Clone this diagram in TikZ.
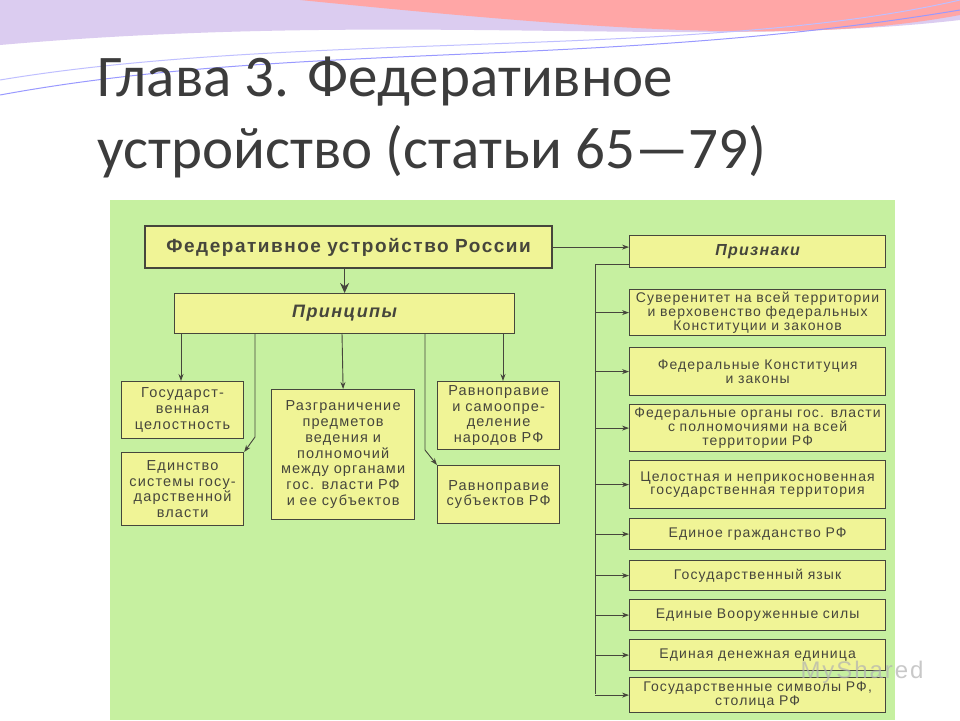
\documentclass[tikz,border=0pt]{standalone}
\usepackage{fontspec}
\setmainfont{Liberation Sans}[LetterSpace=8]
\newfontfamily\titlefont{Carlito}
\usetikzlibrary{arrows.meta}
\definecolor{panel}{RGB}{198,240,160}
\definecolor{boxfill}{RGB}{240,244,150}
\definecolor{ink}{RGB}{70,70,60}
\definecolor{titleink}{RGB}{60,60,60}
\tikzset{
 box/.style={draw=ink, fill=boxfill, line width=1.2pt, anchor=north west, align=center, inner sep=0pt, text=ink, font=\fontsize{14.5}{15.8}\selectfont},
 rbox/.style={box, font=\fontsize{14}{13.8}\selectfont},
 conn/.style={draw=ink, line width=0.9pt, -{Stealth[length=7pt,width=5pt]}},
 line/.style={draw=ink, line width=0.9pt}
}
\newcommand{\bx}[6][]{\node[box,#1, minimum width=#4pt-#2pt, minimum height=#5pt-#3pt, text width=#4pt-#2pt] (#6) at (#2,#3)}
\begin{document}
\begin{tikzpicture}[x=1pt,y=-1pt]
\useasboundingbox (0,0) rectangle (960,720);
\fill[white] (0,0) rectangle (960,720);
% decorative top wave
\fill[red!30!blue!20] (0,0) -- (960,0) -- (960,20) .. controls (700,50) and (400,10) .. (0,45) -- cycle;
\fill[red!35!white] (300,0) -- (960,0) -- (960,15) .. controls (800,45) and (600,30) .. (300,0);
\draw[blue!40, line width=1pt] (0,95) .. controls (300,40) and (600,70) .. (960,10);
\draw[blue!25, line width=1pt] (0,80) .. controls (300,30) and (700,60) .. (960,0);
% title
\node[anchor=west, font=\titlefont\fontsize{59}{62}\selectfont, text=titleink, inner sep=0] (t1) at (97,82) {Глава 3. Федеративное};
\node[anchor=west, font=\titlefont\fontsize{59}{62}\selectfont, text=titleink, inner sep=0] (t2) at (97,152) {устройство (статьи 65—79)};
% panel
\fill[panel] (110,200) rectangle (895,720);
% boxes
\bx[line width=2.2pt, font=\bfseries\fontsize{19}{21}\selectfont]{144}{225}{551}{267}{top} {Федеративное устройство России};
\bx[font=\bfseries\itshape\fontsize{18}{20}\selectfont]{174}{293}{514}{333}{prin} {Принципы};
\bx[font=\bfseries\itshape\fontsize{16}{18}\selectfont]{629}{235}{885}{267}{priz} {Признаки};
\bx{121}{381}{243}{438}{p1} {Государст-\\венная\\целостность};
\bx{121}{452}{243}{525}{p2} {Единство\\системы госу-\\дарственной\\власти};
\bx{271}{389}{414}{519}{p3} {Разграничение\\предметов\\ведения и\\полномочий\\между органами\\гос. власти РФ\\и ее субъектов};
\bx{437}{381}{559}{449}{p4} {Равноправие\\и самоопре-\\деление\\народов РФ};
\bx{437}{465}{559}{523}{p5} {Равноправие\\субъектов РФ};
\bx[rbox]{629}{289}{885}{335}{r1} {Суверенитет на всей территории\\и верховенство федеральных\\Конституции и законов};
\bx[rbox]{629}{347}{885}{395}{r2} {Федеральные Конституция\\и законы};
\bx[rbox]{629}{404}{885}{451}{r3} {Федеральные органы гос. власти\\с полномочиями на всей\\территории РФ};
\bx[rbox]{629}{460}{885}{508}{r4} {Целостная и неприкосновенная\\государственная территория};
\bx[rbox]{629}{518}{885}{549}{r5} {Единое гражданство РФ};
\bx[rbox]{629}{560}{885}{590}{r6} {Государственный язык};
\bx[rbox]{629}{599}{885}{630}{r7} {Единые Вооруженные силы};
\bx[rbox]{629}{639}{885}{670}{r8} {Единая денежная единица};
\bx[rbox]{629}{677}{885}{712}{r9} {Государственные символы РФ,\\столица РФ};
% connectors
\draw[conn, line width=1.3pt, -{Stealth[length=10pt,width=9pt]}] (top.south -| prin.north) -- (prin.north);
\draw[conn] (top.east) -- (priz.west |- top.east);
\coordinate (v0) at (595,264);
\coordinate (vend) at (595,694);
\draw[line] (priz.south west |- v0) -- (v0) -- (vend);
\foreach \r in {r1,r2,r3,r4,r5,r6,r7,r8,r9}{
  \draw[conn] (v0 |- \r.west) -- (\r.west);
}
\draw[conn] (181,333) -- (181,381);
\draw[conn] (255,333) -- (255,437) -- (p2.north east);
\draw[conn] (342,333) -- (p3.north);
\draw[conn] (425,333) -- (425,450) -- (p5.north west);
\draw[conn] (503,333) -- (503,381);
% watermark
\node[font=\fontsize{24}{26}\selectfont, text=gray!60, opacity=0.7] (wm) at (862,672) {MyShared};
\end{tikzpicture}
\end{document}
